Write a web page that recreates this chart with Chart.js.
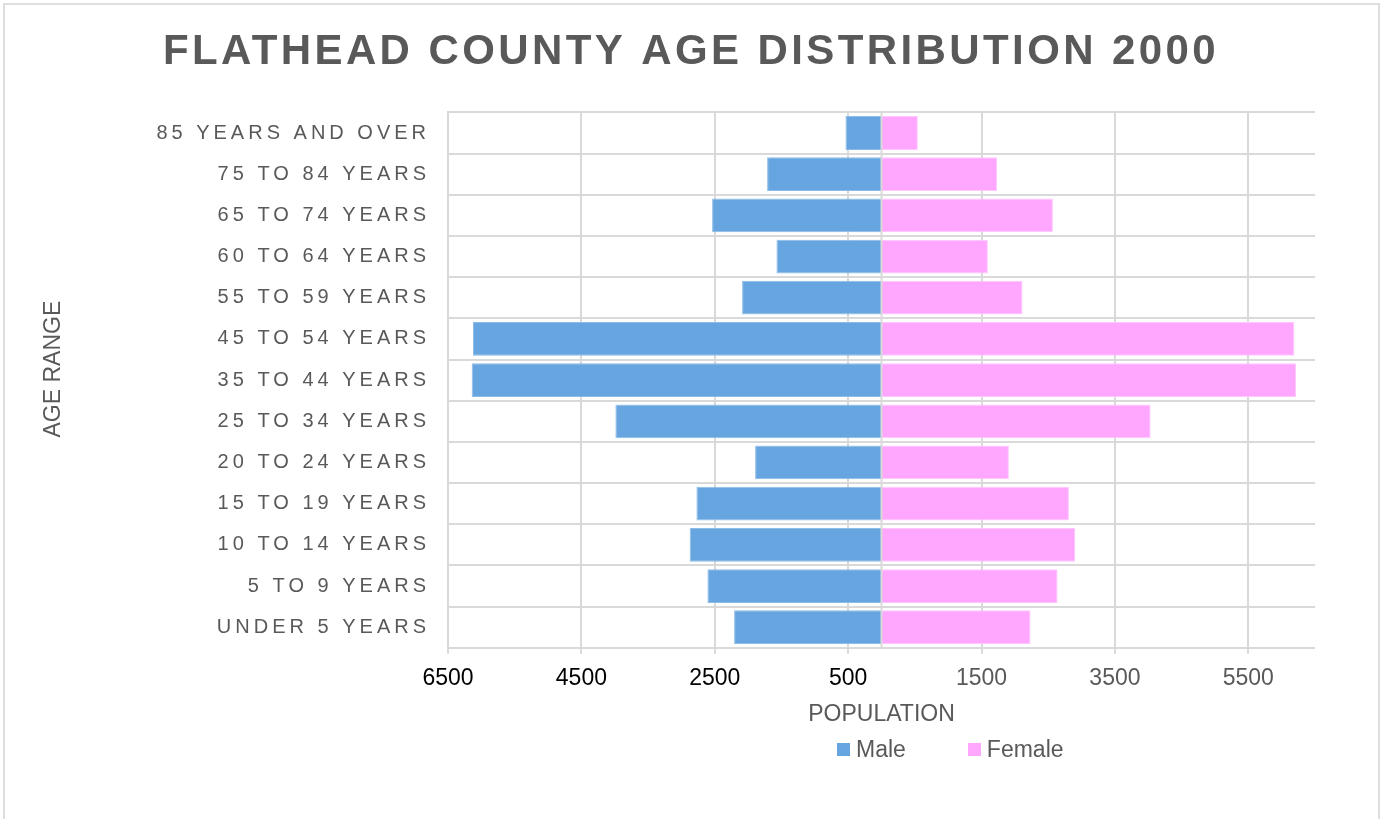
<!DOCTYPE html>
<html>
<head>
<meta charset="utf-8">
<title>Flathead County Age Distribution 2000</title>
<script src="https://cdn.jsdelivr.net/npm/chart.js@4.4.1/dist/chart.umd.min.js"></script>
<style>
body { margin: 0; background: #fff; overflow: hidden; }
#frame { position: absolute; left: 3px; top: 3px; width: 1373px; height: 900px; border: 2px solid #dedede; }
#pyramid { position: absolute; left: 0; top: 0; }
#legend { position: absolute; left: 837px; top: 736px; display: flex; align-items: center;
  font: 23px 'Liberation Sans', Arial, sans-serif; color: #595959; line-height: 27px; }
#legend .item { display: flex; align-items: center; margin-right: 62px; }
#legend .box { width: 13px; height: 13px; margin-right: 6px; }
</style>
</head>
<body>
<div id="frame"></div>
<canvas id="pyramid" width="1382" height="819"></canvas>
<div id="legend"></div>
<script>
var ageGroups = ['UNDER 5 YEARS', '5 TO 9 YEARS', '10 TO 14 YEARS', '15 TO 19 YEARS', '20 TO 24 YEARS',
    '25 TO 34 YEARS', '35 TO 44 YEARS', '45 TO 54 YEARS', '55 TO 59 YEARS', '60 TO 64 YEARS',
    '65 TO 74 YEARS', '75 TO 84 YEARS', '85 YEARS AND OVER'];
var male = [2210, 2610, 2875, 2775, 1895, 3990, 6145, 6125, 2090, 1575, 2540, 1715, 540];
var female = [2235, 2640, 2905, 2810, 1910, 4035, 6215, 6190, 2115, 1595, 2570, 1735, 545];
var xTickValues = [-6500, -4500, -2500, -500, 1500, 3500, 5500];

var font = "'Liberation Sans', Arial, sans-serif";
var gridColor = '#d9d9d9';
var textColor = '#595959';

// chart.js has no letter spacing option, so wrap the draw call
// (also used to nudge a block a few pixels)
function wrapDraw(obj, method, spacing, dx, dy) {
    if (obj['_wrapped_' + method]) return;
    var orig = obj[method];
    obj[method] = function () {
        this.ctx.save();
        this.ctx.letterSpacing = spacing;
        this.ctx.translate(dx || 0, dy || 0);
        orig.apply(this, arguments);
        this.ctx.restore();
    };
    obj['_wrapped_' + method] = true;
}

var extras = {
    id: 'extras',
    beforeDraw: function (chart) {
        // title is centred on the whole canvas, not inside the right padding
        if (chart.titleBlock) wrapDraw(chart.titleBlock, 'draw', '3.4px', chart.options.layout.padding.right / 2, 0);
    },
    afterDatasetsDraw: function (chart) {
        // zero line between the two sides
        var x = chart.scales.x.getPixelForValue(0);
        var area = chart.chartArea;
        var c = chart.ctx;
        c.save();
        c.strokeStyle = gridColor;
        c.lineWidth = 2;
        c.beginPath();
        c.moveTo(x, area.top);
        c.lineTo(x, area.bottom);
        c.stroke();
        c.restore();
    }
};

var chart = new Chart(document.getElementById('pyramid').getContext('2d'), {
    type: 'bar',
    data: {
        labels: ageGroups,
        datasets: [{
            label: 'Male',
            data: male.map(function (v) { return -v; }),
            backgroundColor: '#66a5df',
            borderColor: '#8cbbe8',
            borderWidth: 1,
            barPercentage: 0.82,
            categoryPercentage: 1
        }, {
            label: 'Female',
            data: female,
            backgroundColor: '#ffa6ff',
            borderColor: '#ffc6ff',
            borderWidth: 1,
            barPercentage: 0.82,
            categoryPercentage: 1
        }]
    },
    options: {
        indexAxis: 'y',
        responsive: false,
        animation: false,
        devicePixelRatio: 1,
        layout: { padding: { left: 0, right: 67, top: 0, bottom: 91 } },
        plugins: {
            legend: { display: false },
            tooltip: { enabled: false },
            title: {
                display: true,
                text: 'FLATHEAD COUNTY AGE DISTRIBUTION 2000',
                color: textColor,
                font: { family: font, size: 42, weight: 'bold' },
                padding: { top: 27, bottom: 35 }
            }
        },
        scales: {
            x: {
                stacked: true,
                min: -6500,
                max: 6500,
                afterBuildTicks: function (scale) {
                    scale.ticks = xTickValues.map(function (v) { return { value: v }; });
                },
                grid: { color: gridColor, lineWidth: 2, tickLength: 6, tickColor: gridColor },
                border: { display: false },
                ticks: {
                    autoSkip: false,
                    maxRotation: 0,
                    padding: 11,
                    font: { family: font, size: 23 },
                    color: function (c) { return c.tick && c.tick.value < 0 ? '#000000' : textColor; },
                    callback: function (v) { return Math.abs(v); }
                },
                title: {
                    display: true,
                    text: 'POPULATION',
                    color: textColor,
                    font: { family: font, size: 23 },
                    padding: { top: -3, bottom: 0 }
                }
            },
            y: {
                stacked: true,
                reverse: true,
                afterFit: function (scale) {
                    scale.width = 448;
                    wrapDraw(scale, 'drawLabels', '4px', 0, 0);
                    wrapDraw(scale, 'drawTitle', '0px', 0, -11);
                },
                grid: { color: gridColor, lineWidth: 2, drawTicks: false },
                border: { color: gridColor, width: 2 },
                ticks: { padding: 18, font: { family: font, size: 20 }, color: textColor },
                title: {
                    display: true,
                    text: 'AGE RANGE',
                    color: textColor,
                    font: { family: font, size: 23 },
                    padding: { top: 40 }
                }
            }
        }
    },
    plugins: [extras]
});

// legend as html, built from the datasets
var legend = document.getElementById('legend');
chart.data.datasets.forEach(function (ds) {
    var item = document.createElement('div');
    item.className = 'item';
    var box = document.createElement('span');
    box.className = 'box';
    box.style.background = ds.backgroundColor;
    var txt = document.createElement('span');
    txt.textContent = ds.label;
    item.appendChild(box);
    item.appendChild(txt);
    legend.appendChild(item);
});
</script>
</body>
</html>
